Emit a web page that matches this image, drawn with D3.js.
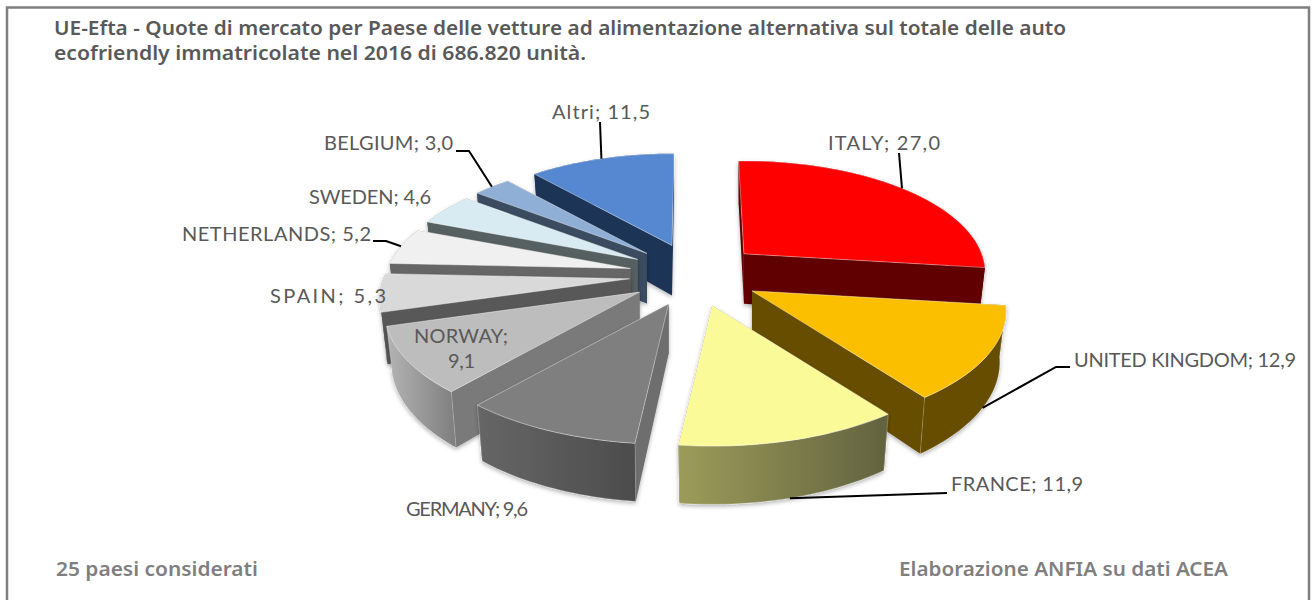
<!DOCTYPE html>
<html>
<head>
<meta charset="utf-8">
<script src="https://cdn.jsdelivr.net/npm/d3@7"></script>
<style>
  html, body { margin: 0; padding: 0; background: #fff; overflow: hidden; }
  text { font-family: "Noto Sans", sans-serif; }
  text.label { font-family: Lato, "Noto Sans", sans-serif; }
</style>
</head>
<body>
<svg id="chart" width="1313" height="600"></svg>
<script>
let countries = ['ITALY', 'UNITED KINGDOM', 'FRANCE', 'GERMANY', 'NORWAY', 'SPAIN', 'NETHERLANDS', 'SWEDEN', 'BELGIUM', 'Altri'];
let shares = [27.0, 12.9, 11.9, 9.6, 9.1, 5.3, 5.2, 4.6, 3.0, 11.5];

let topColors = ['#ff0000', '#fcbf00', '#fbfa98', '#7f7f7f', '#bdbdbd', '#d9d9d9', '#f0f0f0', '#d9ebf2', '#8fafd6', '#5588d0'];
let wallColors = ['#600000', '#664d00', '#5f5f3a', '#6e6e6e', '#7a7a7a', '#595959', '#666666', '#576060', '#3b4b60', '#1f3557'];
let rimFrom = ['#600000', '#664d00', '#9c9c5a', '#666666', '#b4b4b4', '#595959', '#666666', '#576060', '#3b4b60', '#1f3557'];
let rimTo = ['#600000', '#664d00', '#626240', '#4c4c4c', '#7e7e7e', '#595959', '#666666', '#576060', '#3b4b60', '#1f3557'];

// order the slices get painted, back to front
let paintOrder = [0, 9, 8, 7, 6, 5, 4, 3, 1, 2];

// label text box [left, right, middle y]
let labelBoxes = [
  [828, 940, 143],
  [1074, 1296, 360],
  [951, 1083, 484],
  [406, 528, 509],
  null,
  [270, 386, 296],
  [182, 371, 234],
  [309, 431, 197],
  [324, 453, 143],
  [552, 650, 112],
];

let svg = d3.select('#chart');
let cx = 695, cy = 275;
let explodeX = 66, explodeY = 31.5;
let radiusX = 245, radiusY = 112;
let perspective = 0.17;
let nearGrow = 0.0014; // slices pushed towards the viewer get bigger
let depth = 50;

let pie = d3.pie().sort(null);
let arcs = pie(shares);
// the first and last cut are not quite on the vertical in the original
arcs[0].startAngle = -0.026;
arcs[9].endAngle += 0.01;

let scaleAt = (a) => 1 / (1 + perspective * Math.cos(a));

function apexOf(d) {
  let mid = (d.startAngle + d.endAngle) / 2;
  return [cx + explodeX * Math.sin(mid), cy - explodeY * Math.cos(mid)];
}
function topPoint(d, a) {
  let p = apexOf(d), s = scaleAt(a) * (1 + nearGrow * (p[1] - cy));
  return [p[0] + radiusX * Math.sin(a) * s, p[1] - radiusY * Math.cos(a) * s];
}
function bottomPoint(d, a) {
  let t = topPoint(d, a), p = apexOf(d), s = scaleAt(a);
  return [p[0] + 0.975 * (t[0] - p[0]), t[1] + depth * (0.2 + 0.8 * s)];
}
function rimAngles(d) {
  let n = Math.max(6, Math.ceil((d.endAngle - d.startAngle) * 40));
  return d3.range(n + 1).map((i) => d.startAngle + ((d.endAngle - d.startAngle) * i) / n);
}
let line = d3.line().curve(d3.curveLinearClosed);

// frame, the bottom edge is outside the picture
svg.append('rect')
  .attr('x', 7).attr('y', 7.5)
  .attr('width', 1302).attr('height', 640)
  .attr('fill', '#fff').attr('stroke', '#7f7f7f').attr('stroke-width', 2.5);

let defs = svg.append('defs');
let shadow = defs.append('filter').attr('id', 'soft')
  .attr('x', '-10%').attr('y', '-10%').attr('width', '120%').attr('height', '125%');
shadow.append('feDropShadow')
  .attr('dx', 0).attr('dy', 2).attr('stdDeviation', 2)
  .attr('flood-color', '#000').attr('flood-opacity', 0.3);

arcs.forEach((d, i) => {
  let g = defs.append('linearGradient').attr('id', 'rim' + i);
  g.append('stop').attr('offset', '0%').attr('stop-color', rimFrom[i]);
  g.append('stop').attr('offset', '100%').attr('stop-color', rimTo[i]);
});

let slices = svg.selectAll('.slice')
  .data(paintOrder.map((i) => ({ arc: arcs[i], i: i })))
  .enter().append('g')
  .attr('class', 'slice')
  .attr('filter', 'url(#soft)');

function cutWall(d, a) {
  let p = apexOf(d);
  return line([p, topPoint(d, a), bottomPoint(d, a), [p[0], p[1] + depth]]);
}

slices.append('path')
  .attr('d', (s) => cutWall(s.arc, s.arc.startAngle))
  .attr('fill', (s) => wallColors[s.i]);
slices.append('path')
  .attr('d', (s) => cutWall(s.arc, s.arc.endAngle))
  .attr('fill', (s) => wallColors[s.i]);

// outer wall, only the front slices show a light edge on it
slices.append('path')
  .attr('d', (s) => {
    let as = rimAngles(s.arc);
    return line(as.map((a) => topPoint(s.arc, a)).concat(as.slice().reverse().map((a) => bottomPoint(s.arc, a))));
  })
  .attr('fill', (s) => `url(#rim${s.i})`)
  .attr('stroke', (s) => (s.i >= 1 && s.i <= 4 ? 'rgba(255,255,255,0.35)' : 'none'))
  .attr('stroke-width', 0.6);

// top face
slices.append('path')
  .attr('d', (s) => line([apexOf(s.arc)].concat(rimAngles(s.arc).map((a) => topPoint(s.arc, a)))))
  .attr('fill', (s) => topColors[s.i])
  .attr('stroke', 'rgba(255,255,255,0.55)')
  .attr('stroke-width', 0.7);

// leader lines end on the slice itself
let leaderLine = d3.line();
function leaderEnd(i) {
  let d = arcs[i], mid = (d.startAngle + d.endAngle) / 2;
  return i === 1 || i === 2 ? bottomPoint(d, mid) : topPoint(d, mid);
}
let leaders = [
  [0, [[899, 153]]],
  [1, [[1070, 367], [1056, 367]]],
  [2, [[947, 493]]],
  [6, [[373, 241], [386, 241]]],
  [8, [[456, 151], [469, 151]]],
  [9, [[600, 122]]],
];
svg.selectAll('.leader')
  .data(leaders)
  .enter().append('path')
  .attr('class', 'leader')
  .attr('d', (l) => leaderLine(l[1].concat([leaderEnd(l[0])])))
  .attr('fill', 'none')
  .attr('stroke', '#000')
  .attr('stroke-width', 2);

let fmt = (v) => d3.format('.1f')(v).replace('.', ',');

function fitted(str, x0, x1, y, size, fill, weight, cls, adjust) {
  svg.append('text')
    .attr('class', cls)
    .attr('x', x0).attr('y', y)
    .attr('textLength', x1 - x0)
    .attr('lengthAdjust', adjust)
    .attr('font-size', size)
    .attr('font-weight', weight)
    .attr('fill', fill)
    .text(str);
}

labelBoxes.forEach((b, i) => {
  if (b) fitted(`${countries[i]}; ${fmt(shares[i])}`, b[0], b[1], b[2] + 7, 20, '#595959', 400, 'label', 'spacing');
});

// Norway's label wraps inside the slice
fitted(countries[4] + ';', 414, 508, 343, 20, '#595959', 400, 'label', 'spacing');
fitted(fmt(shares[4]), 448, 475, 368, 20, '#595959', 400, 'label', 'spacing');

fitted('UE-Efta - Quote di mercato per Paese delle vetture ad alimentazione alternativa sul totale delle auto', 54, 1066, 35, 19, '#595959', 600, 'note', 'spacingAndGlyphs');
fitted('ecofriendly immatricolate nel 2016 di 686.820 unità.', 54, 586, 60, 19, '#595959', 600, 'note', 'spacingAndGlyphs');
fitted('25 paesi considerati', 56, 258, 576, 19, '#7f7f7f', 600, 'note', 'spacingAndGlyphs');
fitted('Elaborazione ANFIA su dati ACEA', 899, 1228, 576, 19, '#7f7f7f', 600, 'note', 'spacingAndGlyphs');
</script>
</body>
</html>
